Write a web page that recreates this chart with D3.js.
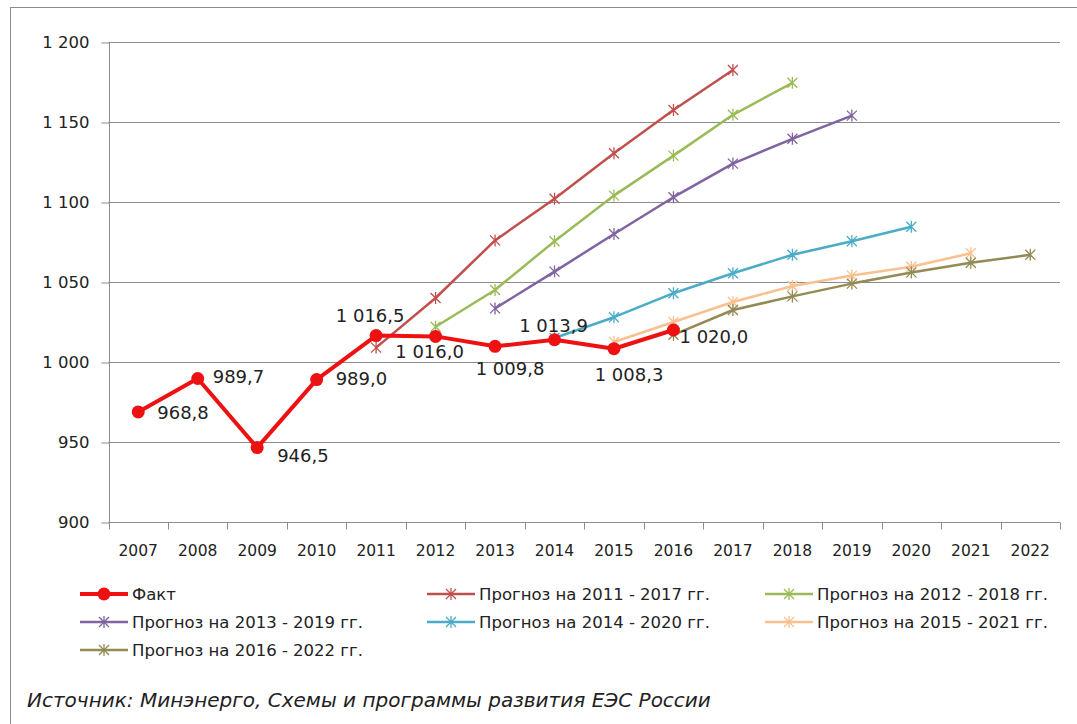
<!DOCTYPE html>
<html><head><meta charset="utf-8">
<script src="https://cdn.jsdelivr.net/npm/d3@7"></script>
<style>
html,body{margin:0;padding:0;background:#fff;}
svg text{font-family:"DejaVu Sans",sans-serif;fill:#222;}
</style></head>
<body>
<svg id="chart" width="1077" height="724"></svg>
<script>
const years = ["2007","2008","2009","2010","2011","2012","2013","2014","2015","2016","2017","2018","2019","2020","2021","2022"];
const yTicks = [900, 950, 1000, 1050, 1100, 1150, 1200];

const factYears = ["2007","2008","2009","2010","2011","2012","2013","2014","2015","2016"];
const factValues = [968.8, 989.7, 946.5, 989.0, 1016.5, 1016.0, 1009.8, 1013.9, 1008.3, 1020.0];

const f2011Years = ["2011","2012","2013","2014","2015","2016","2017"];
const f2011Values = [1009, 1040, 1076, 1102, 1130.5, 1157.5, 1182.5];
const f2012Years = ["2012","2013","2014","2015","2016","2017","2018"];
const f2012Values = [1022, 1045, 1075.5, 1104, 1129, 1154.5, 1174.5];
const f2013Years = ["2013","2014","2015","2016","2017","2018","2019"];
const f2013Values = [1033.5, 1056.5, 1080, 1103, 1124, 1139.5, 1154];
const f2014Years = ["2014","2015","2016","2017","2018","2019","2020"];
const f2014Values = [1015, 1028, 1043, 1055.5, 1067, 1075.5, 1084.5];
const f2015Years = ["2015","2016","2017","2018","2019","2020","2021"];
const f2015Values = [1012.5, 1025, 1037.5, 1047.5, 1054, 1059.5, 1068];
const f2016Years = ["2016","2017","2018","2019","2020","2021","2022"];
const f2016Values = [1017, 1032.5, 1041, 1049, 1056, 1062, 1067];

const factName = "Факт";
const forecastNames = ["Прогноз на 2011 - 2017 гг.","Прогноз на 2012 - 2018 гг.","Прогноз на 2013 - 2019 гг.","Прогноз на 2014 - 2020 гг.","Прогноз на 2015 - 2021 гг.","Прогноз на 2016 - 2022 гг."];
const sourceText = "Источник: Минэнерго, Схемы и программы развития ЕЭС России";

// styling / layout (not data)
const forecastColors = ["#C0504D","#9BBB59","#8064A2","#4BACC6","#FAC090","#948A54"];
const factColor = "#EE1111";
// label placement relative to point: [anchor, dx, dy(baseline)]
const factLabelPlacement = [
  ["start",19,7],["start",15,5],["start",20,14],["start",19,5],
  ["middle",-6,-14],["middle",-6,22],["middle",15,29],["middle",-1,-8],
  ["middle",15,32],["start",6,13]
];

const forecasts = [
  {years:f2011Years, values:f2011Values},
  {years:f2012Years, values:f2012Values},
  {years:f2013Years, values:f2013Values},
  {years:f2014Years, values:f2014Values},
  {years:f2015Years, values:f2015Values},
  {years:f2016Years, values:f2016Values}
];

const svg = d3.select("#chart");
const M = {left:108.5, right:1060, top:42, bottom:522};

// outer frame
svg.append("rect").attr("x",10.5).attr("y",7.5).attr("width",1080).attr("height",730)
  .attr("fill","none").attr("stroke","#8c8c8c").attr("stroke-width",1);

const x = d3.scaleBand().domain(years).range([M.left, M.right]).paddingInner(0).paddingOuter(0);
const y = d3.scaleLinear().domain([900,1200]).range([M.bottom, M.top]);
const cx = d => x(d) + x.bandwidth()/2;

// gridlines
svg.append("g").selectAll("line").data(yTicks.filter(t=>t>900)).join("line")
  .attr("x1",M.left).attr("x2",M.right)
  .attr("y1",d=>Math.round(y(d))+0.5).attr("y2",d=>Math.round(y(d))+0.5)
  .attr("stroke","#8c8c8c").attr("stroke-width",1);

// y axis
const yAxis = d3.axisLeft(y).tickValues(yTicks).tickSize(8).tickPadding(12)
  .tickFormat(d => d3.format(",")(d).replace(/,/g," "));
const gy = svg.append("g").attr("transform",`translate(${Math.round(M.left)+0.5},0.5)`).call(yAxis);
gy.select(".domain").attr("stroke","#8c8c8c").attr("d",`M0,${M.bottom}V${M.top}`);
gy.selectAll(".tick line").attr("stroke","#8c8c8c");
gy.selectAll(".tick text").attr("font-size","16.5px").attr("fill","#222")
  .attr("font-family","DejaVu Sans");

// x axis
const gx = svg.append("g").attr("transform",`translate(0,${M.bottom+0.5})`);
gx.append("line").attr("x1",M.left).attr("x2",M.right).attr("y1",0).attr("y2",0).attr("stroke","#8c8c8c");
const bounds = d3.range(years.length+1).map(i => M.left + i*x.bandwidth());
gx.selectAll("line.tk").data(bounds).join("line").attr("class","tk")
  .attr("x1",d=>Math.round(d)+0.5).attr("x2",d=>Math.round(d)+0.5).attr("y1",0).attr("y2",7)
  .attr("stroke","#8c8c8c");
gx.selectAll("text").data(years).join("text")
  .attr("x",d=>cx(d)).attr("y",33).attr("text-anchor","middle")
  .attr("font-size","15.5px").text(d=>d);

// star marker path
function starPath(s){
  return `M${-s},${-s}L${s},${s}M${-s},${s}L${s},${-s}M0,${-s-1}L0,${s+1}`;
}

const line = d3.line().x(d=>cx(d.year)).y(d=>y(d.value));

// forecasts
forecasts.forEach((f,i)=>{
  const pts = f.years.map((yr,j)=>({year:yr,value:f.values[j]}));
  const g = svg.append("g");
  g.append("path").datum(pts).attr("d",line).attr("fill","none")
    .attr("stroke",forecastColors[i]).attr("stroke-width",2.5).attr("stroke-linejoin","round");
  g.selectAll("path.m").data(pts).join("path").attr("class","m")
    .attr("transform",d=>`translate(${cx(d.year)},${y(d.value)})`)
    .attr("d",starPath(5)).attr("fill","none").attr("stroke",forecastColors[i]).attr("stroke-width",1.3);
});

// fact
const factPts = factYears.map((yr,j)=>({year:yr,value:factValues[j],pl:factLabelPlacement[j]}));
svg.append("path").datum(factPts).attr("d",line).attr("fill","none")
  .attr("stroke",factColor).attr("stroke-width",4).attr("stroke-linejoin","round");
svg.append("g").selectAll("circle").data(factPts).join("circle")
  .attr("cx",d=>cx(d.year)).attr("cy",d=>y(d.value)).attr("r",6.5).attr("fill",factColor);

const fmt = v => {
  const s = v.toFixed(1);
  const [a,b] = s.split(".");
  return a.replace(/\B(?=(\d{3})+(?!\d))/g," ") + "," + b;
};
svg.append("g").selectAll("text").data(factPts).join("text")
  .attr("font-size","18px")
  .attr("x",d=>cx(d.year)+d.pl[1])
  .attr("y",d=>y(d.value)+d.pl[2])
  .attr("text-anchor",d=>d.pl[0])
  .text(d=>fmt(d.value));

// legend
const legendItems = [{name:factName,color:factColor,fact:true}]
  .concat(forecastNames.map((n,i)=>({name:n,color:forecastColors[i],fact:false})));
const colX = [80, 427, 765];
const rowY = [594, 622, 650];
const lg = svg.append("g");
legendItems.forEach((it,i)=>{
  const c = i%3, r = Math.floor(i/3);
  const g = lg.append("g").attr("transform",`translate(${colX[c]},${rowY[r]})`);
  g.append("line").attr("x1",0).attr("x2",48).attr("y1",0).attr("y2",0)
    .attr("stroke",it.color).attr("stroke-width",it.fact?4:2.5);
  if (it.fact) g.append("circle").attr("cx",24).attr("cy",0).attr("r",6.5).attr("fill",it.color);
  else g.append("path").attr("transform","translate(24,0)").attr("d",starPath(5))
    .attr("fill","none").attr("stroke",it.color).attr("stroke-width",1.3);
  g.append("text").attr("x",52).attr("y",6).attr("font-size","16.5px").text(it.name);
});

// source
svg.append("text").attr("x",27).attr("y",707).attr("font-size","20px")
  .attr("font-style","italic").text(sourceText);
</script>
</body></html>
